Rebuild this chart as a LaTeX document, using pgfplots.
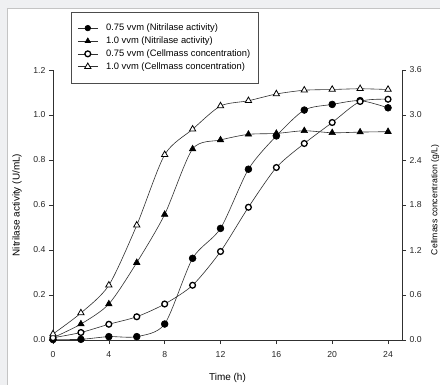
\documentclass[border=0pt]{standalone}
\usepackage{fontspec}
\setmainfont{Liberation Sans}
\usepackage{pgfplots}
\pgfplotsset{compat=1.18}
\definecolor{bgray}{HTML}{EFF0F2}
\definecolor{fgray}{HTML}{C4C4C4}
\definecolor{lc}{HTML}{303030}
\begin{document}
\begin{tikzpicture}
\fill[bgray] (-53bp,-45bp) rectangle (387bp,340bp);
\fill[white] (-45.5bp,-45bp) rectangle (387bp,332bp);
\draw[fgray,line width=0.8bp] (-45.5bp,-45bp) -- (-45.5bp,332bp) -- (387bp,332bp);
\pgfplotsset{
  every axis/.append style={
    scale only axis, width=349bp, height=270bp, at={(0,0)}, anchor=south west,
    xmin=0, xmax=25,
    tick align=outside, major tick length=4bp,
    tick style={lc, line width=0.6bp},
    axis line style={lc, line width=0.7bp, -},
    tick label style={font=\fontsize{8.7}{10}\selectfont, text=black!85},
    /pgf/number format/assume math mode=true,
    /pgf/number format/fixed, /pgf/number format/fixed zerofill, /pgf/number format/precision=1,
  },
  ser/.style={lc, line width=0.6bp, smooth, tension=0.45},
}
\begin{axis}[
  axis x line*=bottom, axis y line*=left,
  ymin=0, ymax=1.2,
  xtick={0,4,...,24},
  xticklabel style={/pgf/number format/precision=0, yshift=-4bp},
  ytick={0,0.2,...,1.2},
  xlabel={Time (h)}, ylabel={Nitrilase activity (U/mL)},
  xlabel style={font=\fontsize{10}{12}\selectfont, at={(axis description cs:0.5,-0.141)}, anchor=center},
  ylabel style={font=\fontsize{10}{12}\selectfont, at={(axis description cs:-0.103,0.5)}, anchor=center},
  clip=false,
]
\addplot[ser, mark=*, mark size=3.4bp, mark options={fill=black, draw=black}] coordinates {
(0,0.002)(2,0.003)(4,0.015)(6,0.015)(8,0.071)(10,0.363)(12,0.496)(14,0.759)(16,0.907)(18,1.022)(20,1.047)(22,1.064)(24,1.032)};
\addplot[ser, mark=triangle*, mark size=3.7bp, mark options={fill=black, draw=black}] coordinates {
(0,0.010)(2,0.071)(4,0.160)(6,0.344)(8,0.558)(10,0.849)(12,0.889)(14,0.914)(16,0.918)(18,0.930)(20,0.921)(22,0.924)(24,0.926)};
\end{axis}
\begin{axis}[
  axis y line*=right, axis x line=none,
  ymin=0, ymax=3.6,
  ytick={0,0.6,...,3.6},
  ylabel={Cellmass concentration (g/L)},
  ylabel style={font=\fontsize{8.7}{10}\selectfont, at={(axis description cs:1.0946,0.519)}, anchor=center, rotate=0},
  clip=false,
  legend cell align=left,
  legend style={at={(axis description cs:0.0507,1.216)}, anchor=north west,
    draw=black!70, line width=0.6bp, fill=white,
    font=\fontsize{9.4}{10.5}\selectfont, row sep=0.6bp, inner xsep=6.5bp, inner ysep=10bp,
    /tikz/every odd column/.append style={column sep=6bp}},
  legend image post style={line width=0.6bp},
  legend image code/.code={\draw[#1] (0bp,0bp) -- (20bp,0bp); \draw[#1] plot coordinates {(10bp,0bp)};},
]
\addlegendimage{lc, line width=0.6bp, mark=*, mark size=2.8bp, mark options={fill=black, draw=black}}
\addlegendentry{0.75 vvm (Nitrilase activity)}
\addlegendimage{lc, line width=0.6bp, mark=triangle*, mark size=3.1bp, mark options={fill=black, draw=black}}
\addlegendentry{1.0 vvm (Nitrilase activity)}
\addplot[ser, mark=*, mark size=2.9bp, mark options={fill=white, draw=black, line width=1.3bp}] coordinates {
(0,0.03)(2,0.10)(4,0.21)(6,0.31)(8,0.48)(10,0.73)(12,1.18)(14,1.77)(16,2.30)(18,2.62)(20,2.90)(22,3.18)(24,3.21)};
\addlegendentry{0.75 vvm (Cellmass concentration)}
\addplot[ser, mark=triangle*, mark size=3.7bp, mark options={fill=white, draw=black, line width=0.8bp}] coordinates {
(0,0.08)(2,0.36)(4,0.73)(6,1.53)(8,2.47)(10,2.81)(12,3.12)(14,3.19)(16,3.28)(18,3.33)(20,3.34)(22,3.35)(24,3.34)};
\addlegendentry{1.0 vvm (Cellmass concentration)}
\end{axis}
\pgfresetboundingbox
\path[use as bounding box] (-53bp,-45bp) rectangle (387bp,340bp);
\end{tikzpicture}
\end{document}
